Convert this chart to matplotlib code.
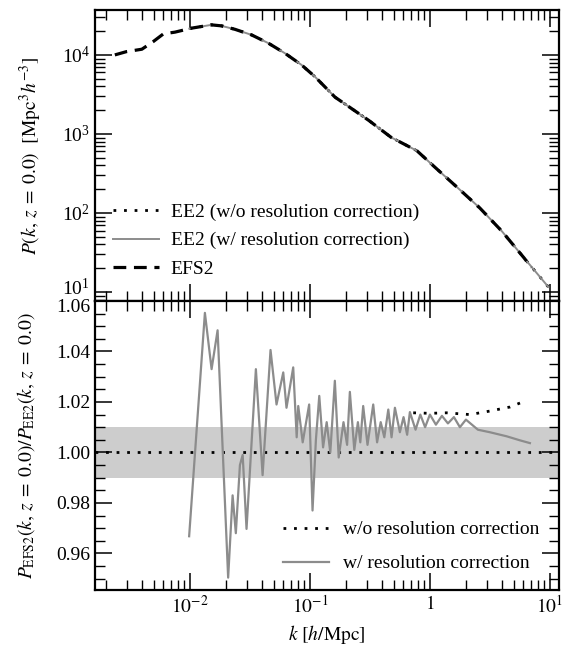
import numpy as np
import matplotlib
matplotlib.use("Agg")
import matplotlib.pyplot as plt
import matplotlib.transforms as mtransforms
from matplotlib.ticker import FuncFormatter, LogLocator, MultipleLocator

plt.rcParams['font.family'] = ['Liberation Serif', 'DejaVu Serif']
plt.rcParams['mathtext.fontset'] = 'stix'
plt.rcParams['font.size'] = 14

# ---------------- data ----------------
# Upper panel: power spectrum
k_efs2 = [0.00237, 0.00296, 0.00398, 0.00494, 0.00603, 0.0075, 0.01033, 0.01514,
          0.01837, 0.0237, 0.0327, 0.045, 0.0619, 0.0853, 0.110, 0.162, 0.31,
          0.475, 0.78, 1.11, 1.7, 2.6, 3.98, 6.1, 7.0]
P_efs2 = [1.00e4, 1.10e4, 1.18e4, 1.47e4, 1.85e4, 1.94e4, 2.18e4, 2.40e4,
          2.33e4, 2.11e4, 1.79e4, 1.41e4, 1.05e4, 7.46e3, 5.31e3, 2.92e3, 1.48e3,
          906, 612, 375, 209, 116, 58.7, 26.9, 20.5]
k_ee2 = [0.0099, 0.01033, 0.01514, 0.01837, 0.0237, 0.0327, 0.045, 0.0619, 0.0853,
         0.110, 0.162, 0.31, 0.475, 0.78, 1.11, 1.7, 2.6, 3.98, 6.1, 9.7]
P_ee2 = [2.15e4, 2.18e4, 2.40e4, 2.33e4, 2.11e4, 1.79e4, 1.41e4, 1.05e4, 7.46e3,
         5.31e3, 2.92e3, 1.48e3, 906, 612, 375, 209, 116, 58.7, 26.9, 11.6]

# Lower panel: ratio EFS2 / EE2
k_ratio_w = [0.00986, 0.01334, 0.01517, 0.01702, 0.02084, 0.0227, 0.02415, 0.02612,
             0.02754, 0.02965, 0.03548, 0.04036, 0.04699, 0.05272, 0.05998, 0.06383,
             0.07261, 0.07762, 0.07998, 0.0871, 0.0986, 0.1052, 0.1122, 0.1197,
             0.1288, 0.138, 0.1479, 0.1614, 0.1738, 0.1905, 0.2042, 0.2153, 0.2344,
             0.2512, 0.263, 0.278, 0.302, 0.337, 0.363, 0.389, 0.417, 0.450, 0.479,
             0.511, 0.562, 0.603, 0.646, 0.681, 0.759, 0.832, 0.912, 1.0, 1.122,
             1.259, 1.413, 1.585, 1.778, 1.995, 2.512, 3.162, 4.355, 5.623, 6.808]
ratio_w = [0.9668, 1.0553, 1.0330, 1.0484, 0.9504, 0.9830, 0.9680, 0.9950,
           0.9990, 0.9697, 1.0330, 0.9910, 1.0406, 1.0190, 1.0317, 1.0177,
           1.0337, 1.0060, 1.0184, 1.0040, 1.0190, 0.9770, 1.0050, 1.0224,
           1.0020, 1.0120, 1.0000, 1.0284, 0.9980, 1.0120, 1.0030, 1.0240, 1.0010,
           1.0120, 1.0040, 1.0184, 1.0030, 1.0190, 1.0040, 1.0120, 1.0060, 1.0170, 1.0060,
           1.0177, 1.0080, 1.0140, 1.0070, 1.0160, 1.0090, 1.0150, 1.0100, 1.0150, 1.0110,
           1.0145, 1.0115, 1.0140, 1.0100, 1.0130, 1.0090, 1.0080, 1.0064, 1.0048, 1.0037]
k_ratio_wo = [0.726, 1.0, 1.377, 2.153, 3.162, 4.645, 6.0]
ratio_wo = [1.0157, 1.0155, 1.0157, 1.0150, 1.0164, 1.0180, 1.0201]

band_lo, band_hi = 0.99, 1.01
ref_level = 1.0

xlim = (1.62e-3, 11.9)
ylim_top = (7.7, 3.7e4)
ylim_bot = (0.9455, 1.06)

# ---------------- figure ----------------
W, H = 575, 652
fig = plt.figure(figsize=(W / 100, H / 100), dpi=100)
left, right = 95 / W, 559 / W
ax1 = fig.add_axes([left, 1 - 301 / H, right - left, (301 - 10) / H])
ax2 = fig.add_axes([left, 1 - 590 / H, right - left, (590 - 301) / H], sharex=ax1)

grey = '#8c8c8c'
dot_style = (0, (1.0, 2.8))

ax1.plot(k_ee2, P_ee2, color='black', lw=2.0, ls=dot_style,
         label='EE2 (w/o resolution correction)')
ax1.plot(k_ee2, P_ee2, color=grey, lw=1.4, label='EE2 (w/ resolution correction)')
ax1.plot(k_efs2, P_efs2, color='black', lw=2.3, dashes=(4, 2.4), label='EFS2')
ax1.set_xscale('log')
ax1.set_yscale('log')
ax1.set_xlim(*xlim)
ax1.set_ylim(*ylim_top)
ax1.set_ylabel(r'$P(k,\, z\; =\; 0.0)\ \ [\mathrm{Mpc}^3 h^{-3}]$')
leg1 = ax1.legend(loc='lower left', frameon=False, handlelength=2.4,
                  handletextpad=0.6, labelspacing=0.55, borderaxespad=0.5,
                  bbox_to_anchor=(0.0, 0.02))

ax2.fill_between(xlim, [band_lo, band_lo], [band_hi, band_hi], color='#cdcdcd', lw=0)
ax2.axhline(ref_level, color='black', lw=2.0, ls=dot_style)
ax2.plot(k_ratio_wo, ratio_wo, color='black', lw=2.0, ls=dot_style,
         label='w/o resolution correction')
ax2.plot(k_ratio_w, ratio_w, color=grey, lw=1.6, label='w/ resolution correction')
ax2.set_xscale('log')
ax2.set_xlim(*xlim)
ax2.set_ylim(*ylim_bot)
ax2.yaxis.set_major_locator(MultipleLocator(0.02))
ax2.yaxis.set_minor_locator(MultipleLocator(0.005))
ax2.yaxis.set_major_formatter(FuncFormatter(lambda v, p: f'{v:.2f}'))
ax2.set_ylabel(r'$P_{\rm EFS2}(k,\, z\; =\; 0.0)/P_{\rm EE2}(k,\, z\; =\; 0.0)$')
ax2.set_xlabel(r'$k\ [h/\mathrm{Mpc}]$')
leg2 = ax2.legend(loc='lower right', frameon=False, handlelength=2.4,
                  handletextpad=0.7, labelspacing=0.85, borderaxespad=0.5,
                  bbox_to_anchor=(0.995, 0.0))


def xfmt(v, p):
    e = int(round(np.log10(v)))
    if e == 0:
        return r'$1$'
    return r'$10^{%d}$' % e


ax2.xaxis.set_major_locator(LogLocator(base=10, numticks=10))
ax2.xaxis.set_major_formatter(FuncFormatter(xfmt))
ax1.tick_params(labelbottom=False)

for ax in (ax1, ax2):
    ax.tick_params(which='both', direction='in', top=True, right=True)
    ax.tick_params(which='major', length=12, width=1.1, labelsize=14)
    ax.tick_params(which='minor', length=7, width=1.0)
    for s in ax.spines.values():
        s.set_linewidth(1.6)

ax1.yaxis.set_label_coords(-0.11, 0.5)
ax2.yaxis.set_label_coords(-0.125, 0.5)

# nudge the two labels that meet at the panel junction apart (as in the reference)
fig.canvas.draw()
up = mtransforms.ScaledTranslation(0, 4 / 72, fig.dpi_scale_trans)
down = mtransforms.ScaledTranslation(0, -3 / 72, fig.dpi_scale_trans)
for lab in ax1.get_yticklabels():
    if lab.get_position()[1] == 10:
        lab.set_transform(lab.get_transform() + up)
for lab in ax2.get_yticklabels():
    if abs(lab.get_position()[1] - 1.06) < 1e-6:
        lab.set_transform(lab.get_transform() + down)

fig.savefig('out.png', dpi=100)
